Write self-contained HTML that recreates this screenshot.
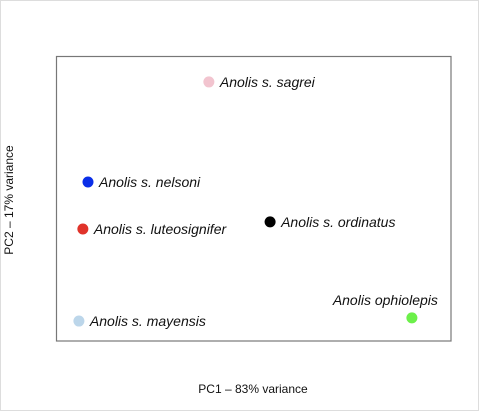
<!DOCTYPE html>
<html><head><meta charset="utf-8"><style>
html,body{margin:0;padding:0;background:#fff;}
svg text{font-family:"Liberation Sans",Arial,sans-serif;}
</style></head><body>
<svg id="chart" width="480" height="411" viewBox="0 0 480 411">
<rect x="0.5" y="0.5" width="478" height="410" fill="#fff" stroke="#ddd"/>
<rect x="56.5" y="56.5" width="394.5" height="284.5" fill="none" stroke="#777" stroke-width="1.2"/>
<text x="253" y="393" font-size="12" text-anchor="middle" fill="#111">PC1 – 83% variance</text>
<text x="0" y="0" font-size="12" text-anchor="middle" fill="#111" transform="translate(13,200) rotate(-90)">PC2 – 17% variance</text>
<g id="marks"></g>
</svg>
<script>
const names = ["Anolis s. sagrei","Anolis s. nelsoni","Anolis s. luteosignifer","Anolis s. ordinatus","Anolis ophiolepis","Anolis s. mayensis"];
const pc1 = [38.7, 8.1, 6.8, 54.2, 90.1, 5.8];
const pc2 = [90.9, 55.8, 39.3, 41.8, 8.1, 7.0];
const colors = ["#f2c4cf","#0a2ee8","#e0332a","#000000","#6cf04a","#bcd6ea"];
const slugs = ["sagrei","nelsoni","luteosignifer","ordinatus","ophiolepis","mayensis"];
const xs = v => 56 + v/100*395;
const ys = v => 341 - v/100*285;
const g = document.getElementById('marks');
const NS = "http://www.w3.org/2000/svg";
for (let i=0;i<names.length;i++){
  const cx = xs(pc1[i]), cy = ys(pc2[i]);
  const c = document.createElementNS(NS,'circle');
  c.setAttribute('cx',cx); c.setAttribute('cy',cy); c.setAttribute('r',5.5);
  c.setAttribute('fill',colors[i]);
  
  
  g.appendChild(c);
  const t = document.createElementNS(NS,'text');
  if (slugs[i]==="ophiolepis"){
    t.setAttribute('x',cx+26); t.setAttribute('y',cy-13); t.setAttribute('text-anchor','end');
  } else {
    t.setAttribute('x',cx+11); t.setAttribute('y',cy+5);
  }
  t.setAttribute('font-size','14'); t.setAttribute('font-style','italic'); t.setAttribute('fill','#111');
  t.textContent = names[i];
  
  
  g.appendChild(t);
}
</script>
</body></html>
